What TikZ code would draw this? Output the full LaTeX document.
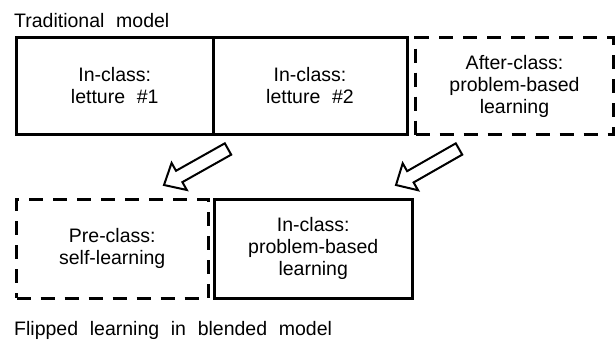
\documentclass[tikz,border=0pt]{standalone}
\usepackage{fontspec}
\setmainfont{Liberation Sans}
\usetikzlibrary{calc}
\newcommand\dgfont{\fontsize{19.5}{22}\selectfont\spaceskip=0.6em\relax}
\newcommand\blockarr[3]{%
  \coordinate (#1t) at #2;
  \coordinate (#1h) at #3;
  \coordinate (#1b) at ($(#1t)!56pt!(#1h)$);
  \draw[blockarrow] ($(#1t)!6.5pt!90:(#1h)$) -- ($(#1b)!6.5pt!90:(#1h)$)
     -- ($(#1b)!15.5pt!90:(#1h)$) -- (#1h) -- ($(#1b)!15.5pt!-90:(#1h)$)
     -- ($(#1b)!6.5pt!-90:(#1h)$) -- ($(#1t)!6.5pt!-90:(#1h)$) -- cycle;}
\begin{document}
\begin{tikzpicture}[x=1pt,y=-1pt,
  box/.style={draw, line width=3pt, inner sep=0pt, align=center, font=\dgfont},
  solidbox/.style={box},
  dashbox/.style={box, dash pattern=on 14pt off 10pt},
  caption/.style={anchor=base west, inner sep=0pt, font=\dgfont},
  blockarrow/.style={draw, line width=2pt, line join=miter, fill=white}]
\useasboundingbox (0,0) rectangle (615,341);
\node[solidbox, minimum width=196.5pt, minimum height=97pt] (b1) at (114.75,86) {In-class:\\letture \#1};
\node[solidbox, minimum width=194pt, minimum height=97pt] (b2) at (310,86) {In-class:\\letture \#2};
\node[dashbox, minimum width=198pt, minimum height=97pt] (b3) at (514.5,86) {After-class:\\problem-based\\learning};
\node[dashbox, minimum width=191.5pt, minimum height=99pt] (b4) at (112.25,248.5) {Pre-class:\\self-learning};
\node[solidbox, minimum width=198.5pt, minimum height=99pt] (b5) at (313.25,248.5) {In-class:\\problem-based\\learning};
\node[caption] (cap1) at (14,27) {Traditional model};
\node[caption] (cap2) at (14,335) {Flipped learning in blended model};
\blockarr{aa}{(228,149)}{(164,185)}
\blockarr{ab}{(459,149)}{(396,185)}
\end{tikzpicture}
\end{document}
